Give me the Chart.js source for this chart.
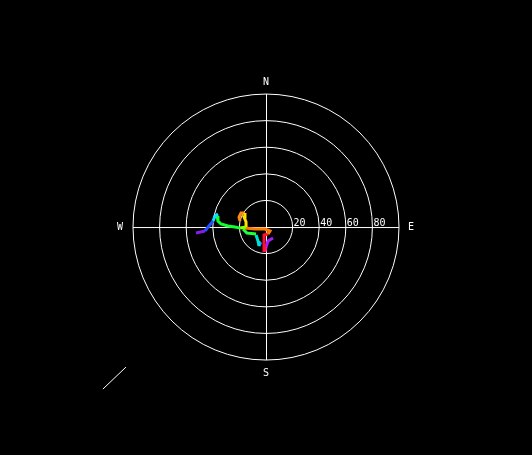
<!DOCTYPE html>
<html>
<head>
<meta charset="utf-8">
<script src="https://cdn.jsdelivr.net/npm/chart.js@4/dist/chart.umd.min.js"></script>
<style>
html,body{margin:0;padding:0;background:#000;}
#wrap{width:532px;height:455px;}
</style>
</head>
<body>
<div id="wrap"><canvas id="c" width="532" height="455"></canvas></div>
<script>
// Radial rings (speed) and labelled ticks
const ringValues = [20, 40, 60, 80, 100];
const tickLabels = ["20", "40", "60", "80"];
const compassLabels = ["N", "E", "S", "W"];

// Trace segments, [u, v] in speed units (east, north)
const segPurple1 = [[-52.6,-4.5],[-49.6,-3.8],[-45.9,-3.0]];
const segBlue1   = [[-45.9,-3.0],[-42.9,0.8],[-39.8,4.5]];
const segCyan1   = [[-39.8,4.5],[-38.3,8.3],[-36.1,9.8]];
const segGreen1  = [[-36.8,8.3],[-36.1,4.5],[-33.8,2.3],[-28.6,0.8],[-23.3,0],[-19.5,-0.8]];
const segLime    = [[-19.5,-0.8],[-15.0,0]];
const segYellow  = [[-15.0,0],[-15.0,3.8],[-16.5,7.5],[-15.8,10.5]];
const segOrange1 = [[-15.8,10.5],[-18.8,10.5],[-20.3,7.5],[-19.5,4.5]];
const segOrange2 = [[-15.8,-0.8],[-8.3,-1.5],[-0.8,-1.5],[3.0,-3.0],[1.5,-5.3]];
const segRed     = [[1.5,-5.3],[-1.5,-6.0],[-1.5,-12.8],[-1.5,-18.8]];
const segGreen2  = [[-17.3,-1.5],[-14.3,-4.5],[-7.5,-5.3]];
const segCyan2   = [[-7.5,-6.0],[-6.0,-10.5],[-5.3,-14.3]];
const segBlue2   = [[-5.3,-14.3],[-3.8,-11.3]];
const segMagenta = [[-0.8,-18.8],[0,-15.0]];
const segPurple2 = [[0,-15.0],[1.5,-10.5],[5.3,-8.3]];
// Direction marker outside the rings
const markerLine = [[-122.6,-121.8],[-105.3,-105.3]];

const segments = [
  [segPurple1,'#8a1cf0'],[segBlue1,'#2050ff'],[segCyan1,'#10e0ff'],
  [segGreen1,'#10ff30'],[segLime,'#90ff00'],[segYellow,'#ffe000'],
  [segOrange1,'#ff8a10'],[segOrange2,'#ff7a00'],[segRed,'#ff1030'],
  [segGreen2,'#20ff40'],[segCyan2,'#00e0d0'],[segBlue2,'#2070ff'],
  [segMagenta,'#ff10a0'],[segPurple2,'#a020ff']
];

const datasets = segments.map(([pts,col]) => ({
  data: pts.map(p => ({x:p[0], y:p[1]})),
  borderColor: col, backgroundColor: col, borderWidth: 3,
  showLine: true, pointRadius: 0, tension: 0
}));
datasets.push({
  data: markerLine.map(p => ({x:p[0], y:p[1]})),
  borderColor:'#ffffff', borderWidth:1, showLine:true, pointRadius:0
});

const polarGrid = {
  id:'polarGrid',
  beforeDraw(chart){
    const ctx = chart.ctx;
    ctx.save();
    ctx.fillStyle = '#000';
    ctx.fillRect(0,0,chart.width,chart.height);
    ctx.restore();
  },
  beforeDatasetsDraw(chart){
    const ctx = chart.ctx, xs = chart.scales.x, ys = chart.scales.y;
    const cx = xs.getPixelForValue(0), cy = ys.getPixelForValue(0);
    const rmax = ringValues[ringValues.length-1];
    ctx.save();
    ctx.strokeStyle = '#ffffff';
    ctx.lineWidth = 1;
    ringValues.forEach(v => {
      const r = xs.getPixelForValue(v) - cx;
      ctx.beginPath();
      ctx.arc(cx, cy, r, 0, Math.PI*2);
      ctx.stroke();
    });
    const R = xs.getPixelForValue(rmax) - cx;
    ctx.beginPath();
    ctx.moveTo(cx - R, cy + 0.5); ctx.lineTo(cx + R, cy + 0.5);
    ctx.moveTo(cx + 0.5, cy - R); ctx.lineTo(cx + 0.5, cy + R);
    ctx.stroke();
    ctx.fillStyle = '#ffffff';
    ctx.font = '10px "DejaVu Sans Mono", monospace';
    ctx.textAlign = 'left'; ctx.textBaseline = 'alphabetic';
    tickLabels.forEach((t,i) => {
      const px = xs.getPixelForValue(ringValues[i]);
      ctx.fillText(t, px + 1, cy - 1);
    });
    ctx.textAlign = 'center'; ctx.textBaseline = 'middle';
    const off = 12;
    ctx.fillText(compassLabels[0], cx, cy - R - off);
    ctx.fillText(compassLabels[1], cx + R + off, cy);
    ctx.fillText(compassLabels[2], cx, cy + R + off + 1);
    ctx.fillText(compassLabels[3], cx - R - off - 1, cy);
    ctx.restore();
  }
};

new Chart(document.getElementById('c'), {
  type: 'scatter',
  data: { datasets },
  options: {
    responsive: false, animation: false,
    layout: { padding: 0 },
    plugins: { legend: { display:false }, tooltip: { enabled:false } },
    scales: {
      x: { type:'linear', min:-200, max:200, display:false },
      y: { type:'linear', min:-171.4, max:170.7, display:false }
    }
  },
  plugins: [polarGrid]
});
</script>
</body>
</html>
